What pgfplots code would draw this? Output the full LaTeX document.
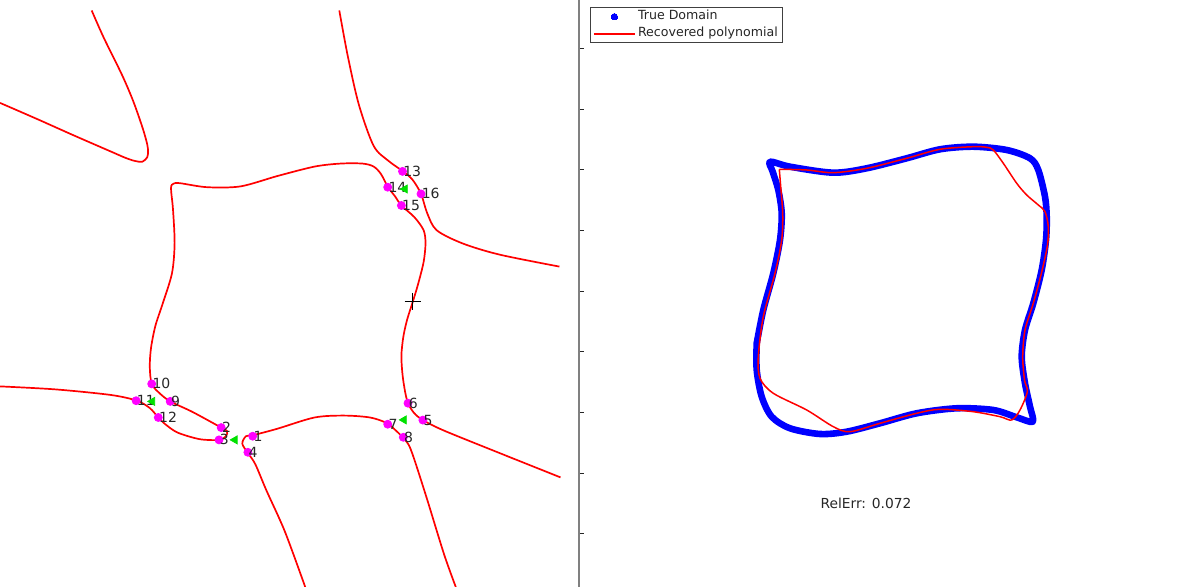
\documentclass[border=0pt]{standalone}
\usepackage{pgfplots}
\pgfplotsset{compat=1.18}
\usepackage{pgfplotstable}
\usepackage{fontspec}
\setmainfont{DejaVu Sans}
\definecolor{mgreen}{RGB}{0,225,0}
\definecolor{mmag}{RGB}{255,0,255}
\definecolor{mred}{RGB}{255,0,0}
\definecolor{mblue}{RGB}{0,0,255}

\pgfplotstableread{
x y lab
252.7 -436.2 1
221.2 -427.6 2
219.0 -439.9 3
247.9 -452.3 4
422.9 -420.1 5
408.0 -403.2 6
387.7 -424.2 7
403.3 -437.3 8
170.2 -401.4 9
151.7 -383.9 10
136.1 -400.7 11
158.3 -417.5 12
402.5 -171.4 13
387.7 -187.2 14
401.4 -205.5 15
421.0 -193.9 16
}\ptable

\pgfplotstableread{
x y
234.9 -439.9
152.4 -401.4
404.0 -419.9
405.0 -189.0
}\ttable

\begin{document}
\begin{tikzpicture}
\useasboundingbox (0,0) rectangle (591.5pt,293.5pt);
% ---------------- left panel ----------------
\begin{axis}[at={(0pt,0pt)}, anchor=south west, scale only axis,
  width=289.5pt, height=293.5pt,
  xmin=0, xmax=579, ymin=-587, ymax=0, hide axis, clip=true]
\addplot[mred, line width=0.85pt, smooth, tension=0.5] coordinates {
(91.7,-10.5) (103.6,-37.4) (122,-74.9) (133.2,-101.1) (142.4,-127.3) (147.2,-144.1)
(148,-151.6) (147.2,-157.3) (142.4,-161.7) (135,-161) (125.8,-158) (111,-151.6)
(74,-135.5) (37,-119) (0,-102.9)};
\addplot[mred, line width=0.85pt, smooth, tension=0.5] coordinates {
(0,-386.4) (55.5,-389.4) (111,-395) (136.9,-400.7) (149.8,-408.1) (158.3,-417.5)
(165,-424) (177.6,-432.6) (199.8,-439.2) (219,-439.9) (226,-436.2) (227,-431.1)
(221.2,-427.6) (192.4,-411.9) (170.2,-401.4) (159,-392.7) (151.7,-383.8) (149.8,-367)
(151,-348.1) (155.4,-325.8) (162.8,-303.3) (172,-273.2) (174.6,-243.4) (173,-209.5)
(171,-188.2) (173.5,-183.7) (180,-183.2) (207,-187.2) (240.5,-186.4) (277.5,-176)
(314.5,-166.6) (340.4,-163.6) (362.6,-163.6) (373.7,-166.6) (381,-174.1) (388,-187.2)
(395,-196.3) (401.4,-205.5) (414.4,-217.2) (423.6,-230.2) (425.5,-243.4) (423.6,-262.1)
(418,-284.4) (412.9,-301.4) (407,-320.1) (403.3,-337) (401.4,-355.7) (402.5,-374.4)
(405,-391.2) (408,-403.2) (414,-412.9) (422.9,-420.1) (444,-430.6) (499.4,-453) (560.5,-477.4)};
\addplot[mred, line width=0.85pt, smooth, tension=0.5] coordinates {
(305.2,-587) (284.9,-531.6) (266.4,-490.4) (255.3,-464.2) (247.9,-453) (242.3,-443.7)
(246,-436.2) (253.4,-435.1) (277.5,-428.7) (314.5,-417.5) (344,-415.6) (370,-417.5)
(386.6,-423) (395.9,-430.6) (403.3,-438.1) (410.7,-449.3) (425.5,-494.2) (444,-554.1) (455.8,-587)};
\addplot[mred, line width=0.85pt, smooth, tension=0.5] coordinates {
(339.3,-10.5) (347.8,-56.2) (358.9,-104.8) (373.7,-146) (388.5,-160.9) (402.5,-171)
(412.5,-179.7) (421,-193.9) (427.3,-213.4) (436.6,-230.2) (462.5,-243.4) (499.4,-254.6) (559.4,-266.6)};
\addplot[only marks, mark=*, mark size=2pt, color=mmag,
  nodes near coords, point meta=explicit symbolic,
  nodes near coords style={anchor=west, text=black!85, inner sep=0pt, xshift=0.2pt,
    font=\fontsize{7}{8}\selectfont}]
  table[x=x, y=y, meta=lab]{\ptable};
\addplot[only marks, mark=triangle*, mark size=2.3pt, color=mgreen,
  mark options={rotate=90}] table[x=x, y=y]{\ttable};
\addplot[only marks, mark=+, mark size=4.2pt, black, line width=0.5pt] coordinates {(412.9,-301.4)};
\end{axis}
% ---------------- right panel ----------------
\begin{axis}[at={(289.5pt,0pt)}, anchor=south west, scale only axis,
  width=302pt, height=293.5pt,
  xmin=579, xmax=1183, ymin=-587, ymax=0, clip=false,
  axis x line=none, axis y line*=left,
  y axis line style={draw=gray, line width=0.85pt, -},
  ytick={-534,-473.3,-412.6,-351.9,-291.2,-230.5,-169.8,-109.1,-48.4},
  yticklabels={}, tick align=inside, major tick length=2.5pt,
  ytick style={black!85, line width=0.5pt},
  legend cell align=left,
  legend style={at={(0.0182,0.9876)}, anchor=north west, draw=black!75, line width=0.5pt,
    font=\fontsize{6.3}{7.3}\selectfont, inner xsep=1.15pt, inner ysep=0.2pt,
    row sep=0pt, text=black!85,
    nodes={inner xsep=1pt, inner ysep=1.2pt, text height=4.7pt, text depth=1.4pt}}]
\addplot[mblue, line width=3.3pt, smooth, tension=0.5, line join=round, line cap=round,
  legend image code/.code={\fill[mblue, line width=0pt] (10.25pt,0pt) circle (1.6pt);}] coordinates {
(756.7,-343.3) (763.3,-310) (773.3,-273.3) (780,-240) (781.7,-213.3) (778.3,-190)
(772.7,-171.7) (770,-161.7) (790,-166.7) (833.3,-172.7) (866.7,-168.3) (906.7,-158.3)
(940,-149.3) (973.3,-146.7) (1006.7,-150) (1030,-158.3) (1038.3,-170) (1045,-196.7)
(1046.7,-216.7) (1046,-240) (1041.7,-270) (1033.3,-303.3) (1025,-330) (1021.7,-356.7)
(1025,-383.3) (1030,-406.7) (1032.7,-421.7) (1016.7,-417.3) (993.3,-410) (956.7,-408.3)
(916.7,-413.3) (880,-423.3) (846.7,-431.7) (820,-434) (790,-428.3) (771.7,-416.7)
(761.7,-396.7) (756.7,-370) (756.7,-343.3)};
\addlegendentry{True Domain}
\addplot[mred, line width=0.75pt, smooth, tension=0.5,
  legend image code/.code={\draw[mred, line width=1.1pt] (0pt,0pt) -- (20.5pt,0pt);}] coordinates {
(779.3,-169.3) (806.7,-170) (833.3,-172.7) (866.7,-168.3) (906.7,-158.3) (940,-149.3)
(973.3,-146.7) (986.7,-147.3) (993.3,-150) (1003.3,-163.3) (1016.7,-183.3) (1026.7,-195)
(1038.3,-205) (1045,-211.7) (1048.3,-226.7) (1047.5,-245) (1041.7,-272) (1033.3,-303.3)
(1025,-330) (1022.7,-356.7) (1024.5,-380) (1027.3,-391.7) (1020,-410) (1011.7,-420)
(1000,-416.7) (973.3,-411.7) (940,-409.3) (916.7,-413.3) (880,-423.3) (850,-431.7)
(833.3,-426.7) (806.7,-410) (773.3,-393.3) (760,-378.3) (758.3,-356.7) (763.3,-316.7)
(775,-273.3) (781.7,-240) (782.7,-213.3) (780.7,-186.7) (779.3,-169.3)};
\addlegendentry{Recovered polynomial}
\node[font=\fontsize{6.9}{8}\selectfont, text=black!85] at (axis cs:866,-503) {RelErr: 0.072};
\end{axis}
\end{tikzpicture}
\end{document}
